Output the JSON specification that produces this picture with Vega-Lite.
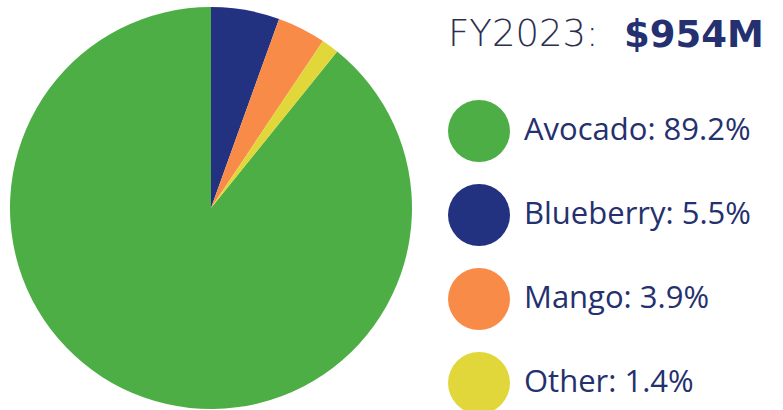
{
  "$schema": "https://vega.github.io/schema/vega-lite/v6.json",
  "width": 422,
  "height": 416,
  "autosize": {"type": "none"},
  "padding": {"left": 0, "top": 0, "right": 361, "bottom": 0},
  "background": "white",
  "title": {
    "text": "$954M",
    "orient": "top",
    "anchor": "start",
    "frame": "group",
    "offset": 0,
    "baseline": "alphabetic",
    "dx": 624,
    "dy": 84,
    "font": "DejaVu Sans",
    "fontSize": 37,
    "fontWeight": "bold",
    "color": "#24306f"
  },
  "data": {
    "values": [
      {"fruit": "Avocado", "share": 89.2, "label": "Avocado: 89.2%", "slice": 4},
      {"fruit": "Blueberry", "share": 5.5, "label": "Blueberry: 5.5%", "slice": 1},
      {"fruit": "Mango", "share": 3.9, "label": "Mango: 3.9%", "slice": 2},
      {"fruit": "Other", "share": 1.4, "label": "Other: 1.4%", "slice": 3}
    ]
  },
  "mark": {"type": "arc", "outerRadius": 201, "stroke": null},
  "encoding": {
    "theta": {"field": "share", "type": "quantitative", "stack": true},
    "order": {"field": "slice", "type": "quantitative"},
    "color": {
      "field": "label",
      "type": "nominal",
      "scale": {
        "domain": ["Avocado: 89.2%", "Blueberry: 5.5%", "Mango: 3.9%", "Other: 1.4%"],
        "range": ["#4dae46", "#233181", "#f98b48", "#e1d73a"]
      },
      "legend": {
        "orient": "none",
        "legendX": 448,
        "legendY": 17,
        "title": "FY2023:",
        "titleFont": "DejaVu Sans",
        "titleFontSize": 37,
        "titleFontWeight": 200,
        "titleColor": "#2c3050",
        "titlePadding": 46,
        "symbolType": "circle",
        "symbolSize": 3844,
        "symbolStrokeWidth": 0,
        "symbolOpacity": 1,
        "labelFont": "Open Sans",
        "labelFontSize": 31,
        "labelColor": "#25306e",
        "labelOffset": 14,
        "labelLimit": 300,
        "rowPadding": 22
      }
    }
  },
  "config": {"view": {"stroke": null}}
}
